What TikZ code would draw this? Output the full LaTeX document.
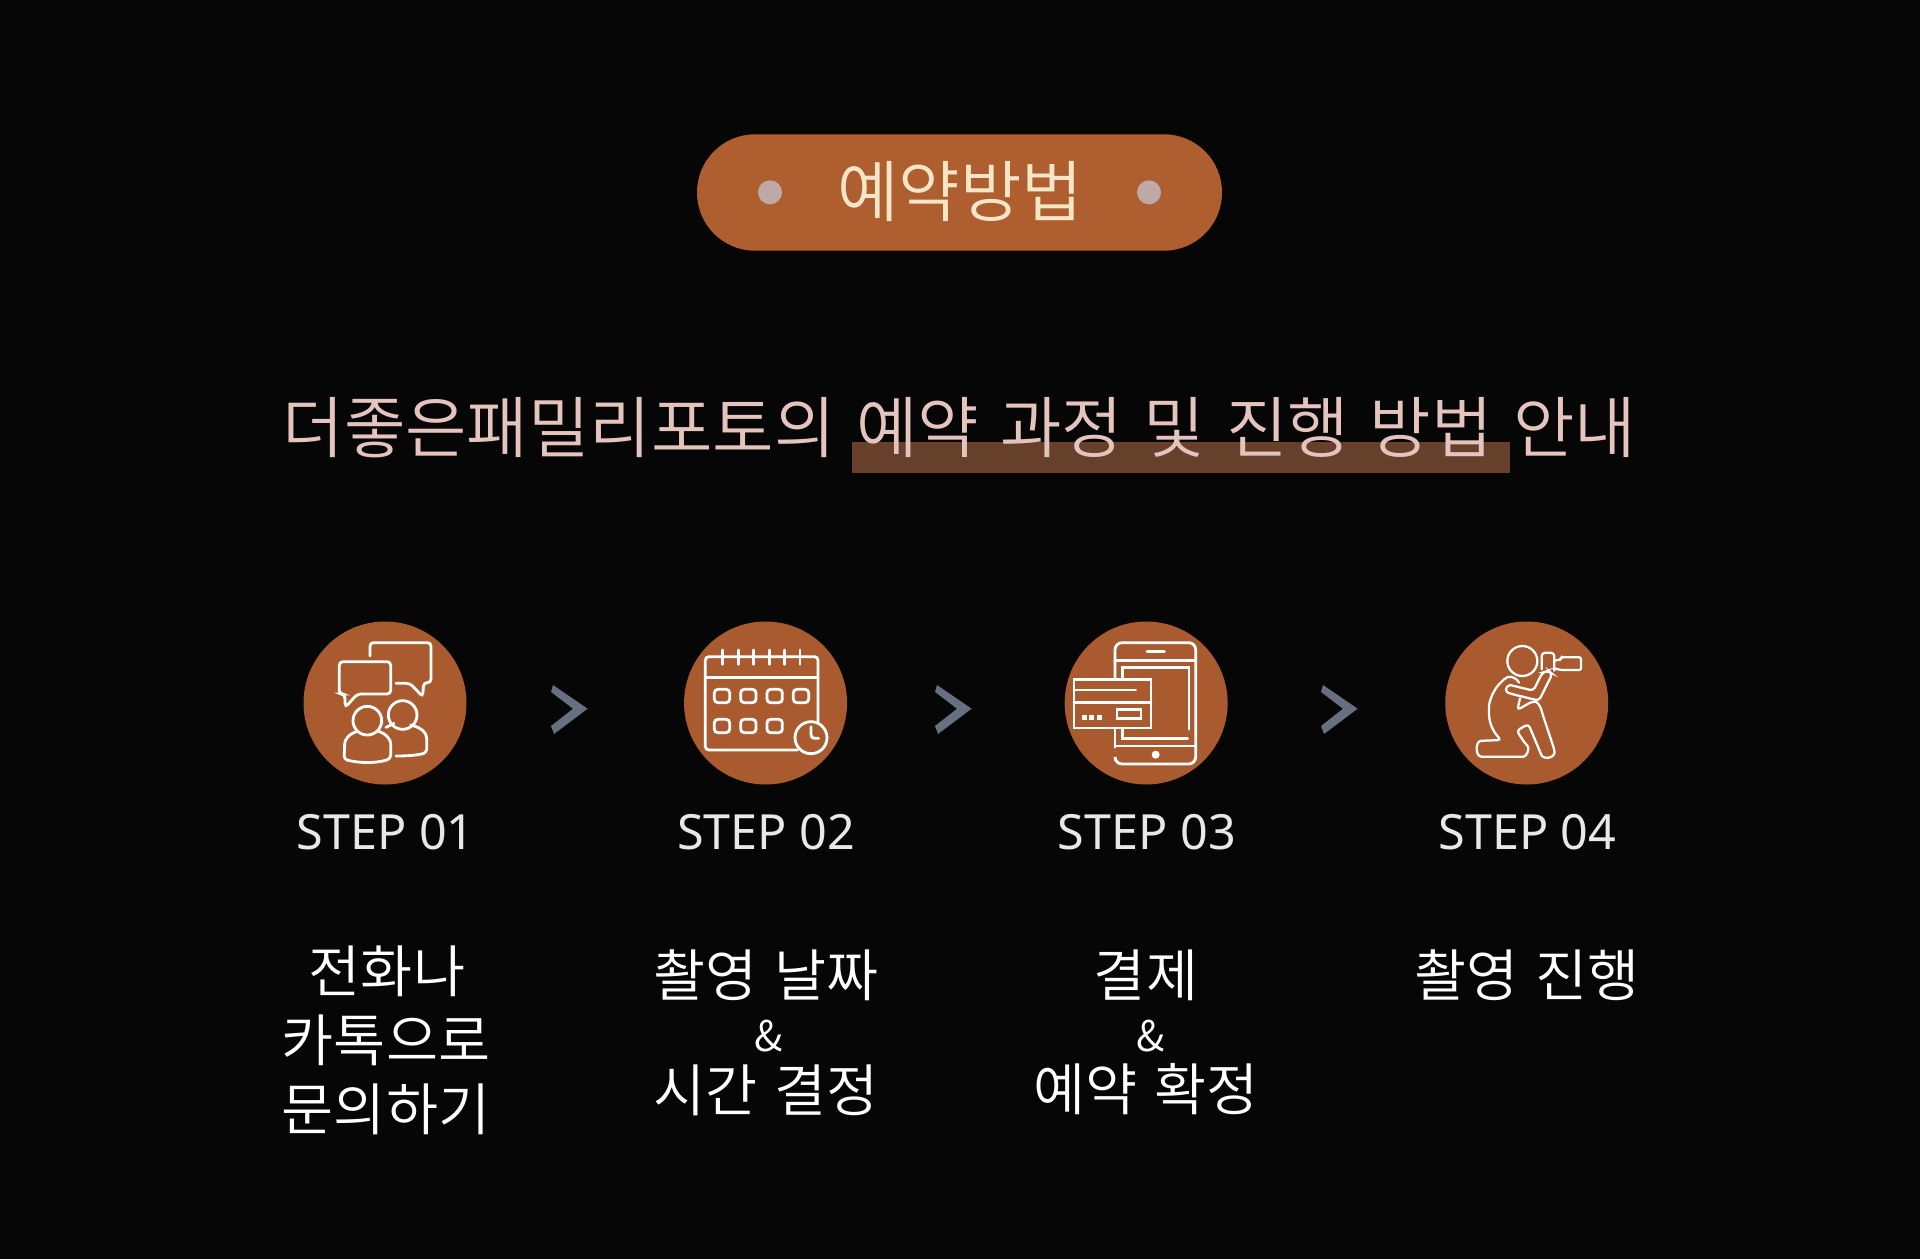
\documentclass[tikz,border=0pt]{standalone}
\usepackage{fontspec}
\setmainfont[WordSpace=1.4]{Noto Sans CJK KR DemiLight}
\newfontfamily\latinfont{Noto Sans}
\usetikzlibrary{positioning}
\definecolor{bgblack}{HTML}{060606}
\definecolor{rust}{HTML}{A95B2F}
\definecolor{pillrust}{HTML}{AF5E2F}
\definecolor{cream}{HTML}{F5E6C8}
\definecolor{dotgray}{HTML}{BFA8A8}
\definecolor{blush}{HTML}{E6C4BE}
\definecolor{markbrown}{HTML}{66402A}
\definecolor{slate}{HTML}{667080}
\definecolor{steptext}{HTML}{E8E8E8}

\begin{document}
\begin{tikzpicture}[x=0.05cm,y=-0.05cm]
      \tikzset{
        node distance=19.03cm,
        every node/.style={inner sep=0pt,outer sep=0pt},
        stepdisc/.style={circle,fill=rust,minimum size=8.15cm},
        steplabel/.style={text=steptext,font=\fontsize{69}{69}\selectfont\latinfont},
        stepbody/.style={text=white,font=\fontsize{80.5}{81}\selectfont},
        stepamp/.style={text=white,font=\fontsize{60}{60}\selectfont},
        pilldot/.style={circle,fill=dotgray,minimum size=1.2cm},
        chev/.style={fill=slate},
        iconline/.style={draw=white,line width=4pt,rounded corners=5pt,line cap=round},
        thinline/.style={iconline,line width=3.2pt}
      }

      \fill[bgblack] (0,0) rectangle (1920,1259);
      \useasboundingbox (0,0) rectangle (1920,1259);

      % header
      \node[fill=pillrust,rounded corners=2.9cm,minimum width=26.25cm,minimum height=5.82cm] (pill) at (959.5,192.5) {};
      \node[pilldot] (dotl) at (770,192.3) {};
      \node[pilldot] (dotr) at (1149,192.3) {};
      \node[text=cream,font=\fontsize{95}{95}\selectfont] (title) at (960,191.5) {예약방법};

      \fill[markbrown] (852,442) rectangle (1510,472.5);
      \node[text=blush,font=\fontsize{95}{95}\selectfont] (sub) at (959.5,428) {더좋은패밀리포토의 예약 과정 및 진행 방법 안내};

      % steps
      \node[stepdisc] (c1) at (385,703) {};
      \node[stepdisc,right of=c1] (c2) {};
      \node[stepdisc,right of=c2] (c3) {};
      \node[stepdisc,right of=c3] (c4) {};

      \node[steplabel,below of=c1,node distance=6.47cm,xshift=1pt] (s1) {STEP 01};
      \node[steplabel,below of=c2,node distance=6.47cm,xshift=1pt] (s2) {STEP 02};
      \node[steplabel,below of=c3,node distance=6.47cm,xshift=1pt] (s3) {STEP 03};
      \node[steplabel,below of=c4,node distance=6.47cm,xshift=1pt] (s4) {STEP 04};

      \foreach \x in {551,935,1321}
        \fill[chev,shift={(\x,0)}] (2,685) -- (36.6,708.7) -- (3,734) -- (0,726) -- (22,708.7) -- (0,692) -- cycle;

      % step texts
      \node[stepbody] (t1a) at (387,971) {전화나};
      \node[stepbody] (t1b) at (386,1040) {카톡으로};
      \node[stepbody] (t1c) at (386,1109) {문의하기};
      \node[stepbody] (t2a) at (766,975) {촬영 날짜};
      \node[stepamp] (t2b) at (769,1036) {\&};
      \node[stepbody] (t2c) at (766,1090) {시간 결정};
      \node[stepbody] (t3a) at (1146,975) {결제};
      \node[stepamp] (t3b) at (1151,1036) {\&};
      \node[stepbody] (t3c) at (1146,1089) {예약 확정};
      \node[stepbody] (t4a) at (1527,975) {촬영 진행};

      % icon 1
      \begin{scope}[shift={(320,630)},xscale=1/3,yscale=1/3]
        \draw[iconline] (150,78) -- (150,38) -- (333,38) -- (333,158) -- (311,158) -- (308,200) -- (270,160) -- (228,160);
        \draw[iconline] (58,95) -- (212,95) -- (212,192) -- (112,192) -- (76,232) -- (74,192) -- (58,192) -- cycle;
        \draw[iconline] (142,272) circle (43);
        \draw[iconline] (112,304) .. controls (85,312) and (74,330) .. (74,352) -- (72,388) .. controls (120,400) and (170,400) .. (212,386) -- (212,350) .. controls (212,330) and (200,312) .. (176,304);
        \draw[iconline] (248,255) circle (43);
        \draw[iconline] (198,292) -- (222,280);
        \draw[iconline] (272,285) .. controls (305,292) and (320,310) .. (320,335) -- (320,368) .. controls (290,376) and (260,378) .. (228,378);
      \end{scope}

      % icon 2
      \begin{scope}[shift={(700,630)},xscale=1/3,yscale=1/3]
        \draw[iconline] (354,278) -- (354,80) -- (16,80) -- (16,360) -- (292,360);
        \draw[iconline] (16,143) -- (354,143);
        \foreach \x in {68,115,161,208,254,300}
          \draw[iconline] (\x,60) -- (\x,103);
        \foreach \x in {66,145,224,303}
          \draw[iconline] (\x-23,178) rectangle (\x+23,218);
        \foreach \x in {66,145,224}
          \draw[iconline] (\x-23,268) rectangle (\x+23,308);
        \draw[iconline] (333,323) circle (48);
        \draw[iconline] (333,290) -- (333,325) -- (356,325);
      \end{scope}

      % icon 3
      \begin{scope}[shift={(1065,630)},xscale=1/3,yscale=1/3]
        \draw[iconline,rounded corners=10pt] (150,145) -- (150,38) -- (392,38) -- (392,402) -- (150,402) -- (150,385);
        \draw[iconline] (150,295) -- (150,352);
        \draw[iconline] (150,92) -- (392,92);
        \draw[iconline] (150,348) -- (392,348);
        \draw[iconline] (246,64) -- (298,64);
        \fill[white] (272,374) circle (12);
        \draw[iconline,rounded corners=0pt] (172,145) -- (172,112) -- (372,112) -- (372,298);
        \draw[iconline,rounded corners=0pt] (172,295) -- (172,325) -- (368,325);
        \draw[iconline,rounded corners=0pt] (27,148) rectangle (258,294);
        \draw[iconline,rounded corners=0pt] (27,180) -- (212,180);
        \draw[iconline,rounded corners=0pt] (27,218) -- (258,218);
        \draw[iconline,rounded corners=0pt] (156,238) rectangle (228,265);
        \foreach \x in {58,80,104}
          \fill[white] (\x-7,256) rectangle (\x+7,270);
      \end{scope}

      % icon 4
      \begin{scope}[shift={(1465,630)},xscale=1/3,yscale=1/3]
        \draw[thinline] (172,93) circle (45);
        \draw[thinline] (230,118) -- (230,68) -- (268,68) -- (268,122);
        \draw[thinline,rounded corners=2pt] (268,92) -- (288,88) -- (288,82) -- (348,82) -- (348,120) -- (288,120) -- (268,115);
        \draw[thinline] (135,165) -- (205,182) -- (232,128) -- (250,122) -- (262,132) -- (222,212) -- (140,192) .. controls (120,185) and (120,170) .. (135,165);
        \draw[thinline] (162,158) .. controls (150,138) and (130,135) .. (110,155) .. controls (85,180) and (72,215) .. (72,240) .. controls (72,280) and (85,305) .. (108,330) -- (60,332) .. controls (30,332) and (30,380) .. (60,380) -- (165,380) .. controls (185,380) and (195,355) .. (180,340) -- (155,302) -- (190,282) -- (225,365) .. controls (235,390) and (275,385) .. (265,350) -- (232,250) .. controls (225,225) and (215,215) .. (200,215) -- (157,240) -- (165,205);
      \end{scope}
    \end{tikzpicture}
\end{document}
